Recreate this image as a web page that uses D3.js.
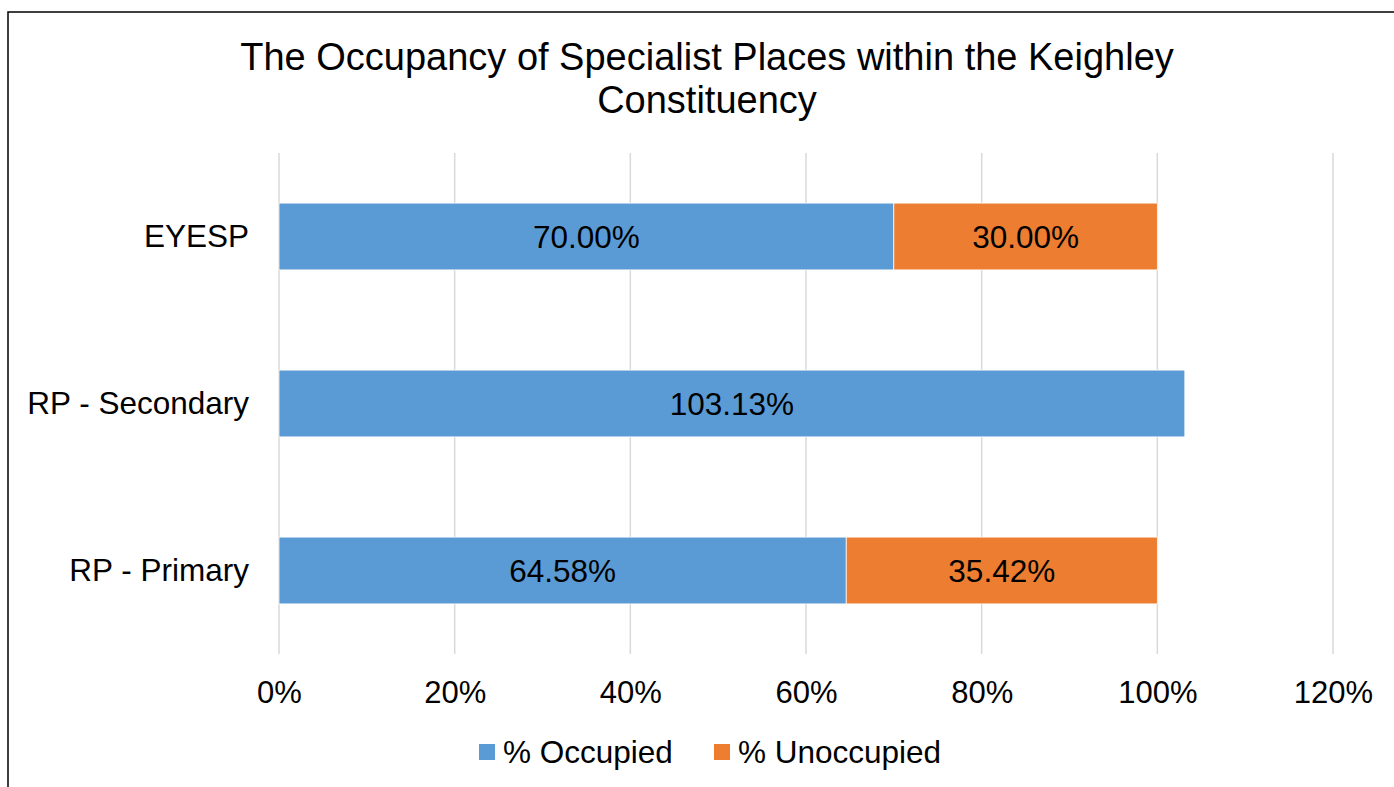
<!DOCTYPE html>
<html>
<head>
<meta charset="utf-8">
<script src="https://cdn.jsdelivr.net/npm/d3@7"></script>
<style>
  body { margin: 0; background: #fff; }
  text { font-family: "Liberation Sans", Arial, sans-serif; fill: #000; }
</style>
</head>
<body>
<div id="chart"></div>
<script>
// chart values
var categories = ["EYESP", "RP - Secondary", "RP - Primary"];
var occupied = [70.00, 103.13, 64.58];
var unoccupied = [30.00, null, 35.42];
var seriesNames = ["% Occupied", "% Unoccupied"];
var seriesColors = ["#5B9BD5", "#ED7D31"];
var xTicks = [0, 20, 40, 60, 80, 100, 120];
var titleLines = ["The Occupancy of Specialist Places within the Keighley", "Constituency"];

var W = 1394, H = 787;
var margin = {top: 153, right: 61, bottom: 133, left: 279};

var svg = d3.select("#chart").append("svg")
    .attr("width", W)
    .attr("height", H);

// chart frame
svg.append("rect")
    .attr("x", 8).attr("y", 12)
    .attr("width", W + 20).attr("height", H + 20)
    .attr("fill", "none")
    .attr("stroke", "#000")
    .attr("stroke-width", 1.5);

// title
svg.append("text")
    .attr("x", 707)
    .attr("y", 70)
    .attr("text-anchor", "middle")
    .style("font-size", "38px")
    .selectAll("tspan")
    .data(titleLines)
    .enter().append("tspan")
    .attr("x", 707)
    .attr("dy", function(d, i) { return i === 0 ? 0 : 43; })
    .text(function(d) { return d; });

var g = svg.append("g")
    .attr("transform", "translate(" + margin.left + "," + margin.top + ")");

var width = W - margin.left - margin.right,
    height = H - margin.top - margin.bottom;

var x = d3.scaleLinear().domain([0, 120]).range([0, width]);
var y = d3.scaleBand().domain(categories).range([0, height])
    .paddingInner(0.6).paddingOuter(0.3);

// gridlines
g.selectAll(".grid")
    .data(xTicks)
    .enter().append("line")
    .attr("x1", function(d) { return x(d); })
    .attr("x2", function(d) { return x(d); })
    .attr("y1", 0)
    .attr("y2", height)
    .attr("stroke", "#d9d9d9")
    .attr("stroke-width", 1.5);

// x axis labels
var xAxis = g.append("g")
    .attr("transform", "translate(0," + height + ")")
    .call(d3.axisBottom(x).tickValues(xTicks).tickFormat(function(d) { return d + "%"; }).tickSize(0).tickPadding(27));
xAxis.select(".domain").remove();
xAxis.selectAll("text")
    .style("font-family", "Liberation Sans, Arial, sans-serif")
    .style("font-size", "31px")
    .attr("fill", "#000");

// y axis labels
var yAxis = g.append("g")
    .call(d3.axisLeft(y).tickSize(0).tickPadding(30));
yAxis.select(".domain").remove();
yAxis.selectAll("text")
    .style("font-family", "Liberation Sans, Arial, sans-serif")
    .style("font-size", "31.5px")
    .attr("fill", "#000");

// stacked segments
var rows = categories.map(function(c, i) {
  return {cat: c, occ: occupied[i], unocc: unoccupied[i]};
});

var segs = [];
rows.forEach(function(r) {
  segs.push({cat: r.cat, start: 0, value: r.occ, s: 0});
  if (r.unocc != null) segs.push({cat: r.cat, start: r.occ, value: r.unocc, s: 1});
});

g.selectAll(".seg")
    .data(segs)
    .enter().append("rect")
    .attr("x", function(d) { return x(d.start); })
    .attr("y", function(d) { return y(d.cat); })
    .attr("width", function(d) { return x(d.start + d.value) - x(d.start); })
    .attr("height", y.bandwidth())
    .attr("fill", function(d) { return seriesColors[d.s]; })
    .attr("stroke", "#fff")
    .attr("stroke-width", 0.75);

g.selectAll(".lbl")
    .data(segs)
    .enter().append("text")
    .attr("x", function(d) { return x(d.start + d.value / 2); })
    .attr("y", function(d) { return y(d.cat) + y.bandwidth() / 2; })
    .attr("dy", "0.35em")
    .attr("text-anchor", "middle")
    .style("font-size", "31.5px")
    .text(function(d) { return d.value.toFixed(2) + "%"; });

// legend
var legendX = [479, 714];
var legend = svg.selectAll(".legend")
    .data(seriesNames)
    .enter().append("g")
    .attr("transform", function(d, i) { return "translate(" + legendX[i] + ",744)"; });
legend.append("rect")
    .attr("width", 16).attr("height", 16)
    .attr("fill", function(d, i) { return seriesColors[i]; });
legend.append("text")
    .attr("x", 24).attr("y", 8)
    .attr("dy", "0.35em")
    .style("font-size", "31.5px")
    .text(function(d) { return d; });
</script>
</body>
</html>
